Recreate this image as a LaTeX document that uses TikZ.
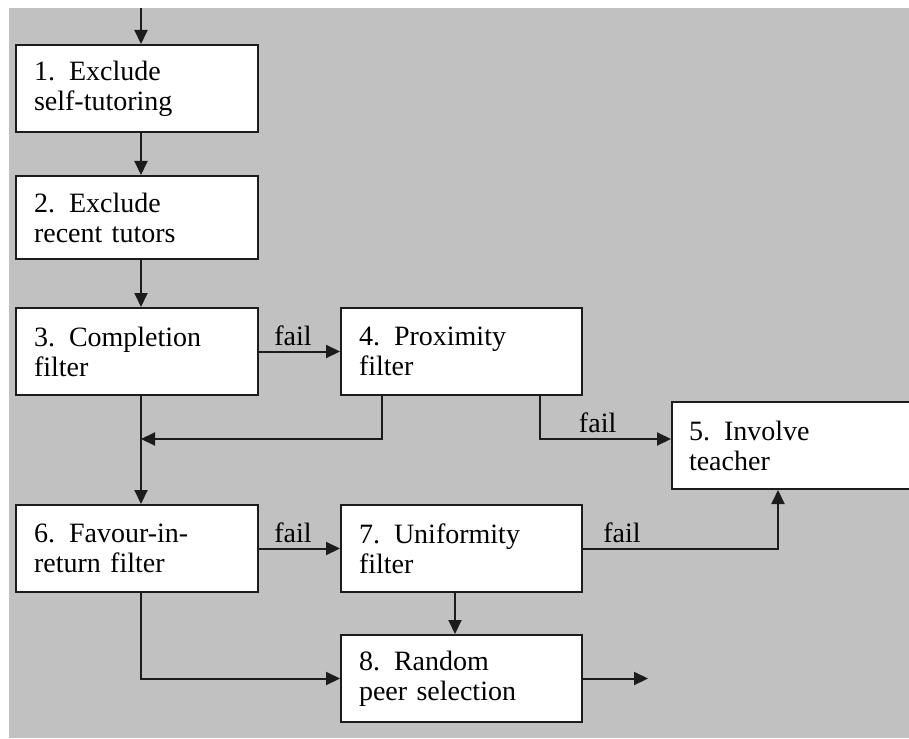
\documentclass[tikz,border=0pt]{standalone}
\usepackage{fontspec}
\setmainfont{Liberation Serif}
\usepackage{tikz}
\usetikzlibrary{positioning,arrows.meta}
\definecolor{bggray}{HTML}{C1C1C1}
\definecolor{ink}{HTML}{1C1C1C}

\begin{document}
\begin{tikzpicture}[x=1pt,y=-1pt,
    stepbox/.style={draw=ink,line width=2pt,fill=white,rectangle,anchor=north west,
        minimum height=87pt,text width=206pt,inner xsep=18pt,align=left,
        font=\fontsize{28}{30}\selectfont},
    arr/.style={draw=ink,line width=2pt,-{Triangle[length=14pt,width=13pt]}},
    failtxt/.style={font=\fontsize{28}{30}\selectfont,inner sep=2pt}]
    \useasboundingbox (0,0) rectangle (909,738);
    \fill[white] (0,0) rectangle (909,738);
    \fill[bggray] (9,8) rectangle (909,738);
    % boxes
    \node[stepbox] (b1) at (15,44) {1. Exclude\\self-tutoring};
    \node[stepbox,minimum height=83pt] (b2) at (15,175) {2. Exclude\\recent tutors};
    \node[stepbox] (b3) at (15,307) {3. Completion\\filter};
    \node[stepbox,text width=205pt] (b4) at (340,307) {4. Proximity\\filter};
    \node[stepbox,text width=211pt,inner xsep=17pt] (b5) at (671,401) {5. Involve\\teacher};
    \node[stepbox] (b6) at (15,504) {6. Favour-in-\\return filter};
    \node[stepbox,text width=205pt] (b7) at (340,504) {7. Uniformity\\filter};
    \node[stepbox,text width=205pt] (b8) at (340,634) {8. Random\\peer selection};
    % joints
    \coordinate (top) at (141,8);
    \coordinate (j1) at (382,439);
    \coordinate (j2) at (540,439);
    \coordinate (j3) at (778,548);
    \coordinate (j4) at (455,600);
    \coordinate (out) at (648,679);
    % main line
    \draw[arr] (top) -- (top |- b1.north);
    \draw[arr] (top |- b1.south) -- (top |- b2.north);
    \draw[arr] (top |- b2.south) -- (top |- b3.north);
    \draw[arr] (top |- b3.south) -- (top |- b6.north);
    \draw[arr] (j1 |- b4.south) -- (j1) -- (j1 -| top);
    \draw[arr] (top |- b6.south) -- (top |- b8.west) -- (b8.west);
    \draw[arr] (j4 |- b7.south) -- (j4 |- b8.north);
    \draw[arr] (b8.east) -- (out |- b8.east);
    % fail branches
    \draw[arr] (b3.east) -- node[failtxt,above=3pt,pos=0.42] (f1) {fail} (b4.west);
    \draw[arr] (j2 |- b4.south) -- (j2) -- node[failtxt,above=3pt,pos=0.44] (f2) {fail} (j2 -| b5.west);
    \draw[arr] (b6.east) -- node[failtxt,above=3pt,pos=0.42] (f3) {fail} (b7.west);
    \draw[arr] (b7.east) -- node[failtxt,above=3pt,pos=0.2] (f4) {fail} (j3 |- b7.east) -- (j3 |- b5.south);
\end{tikzpicture}
\end{document}
